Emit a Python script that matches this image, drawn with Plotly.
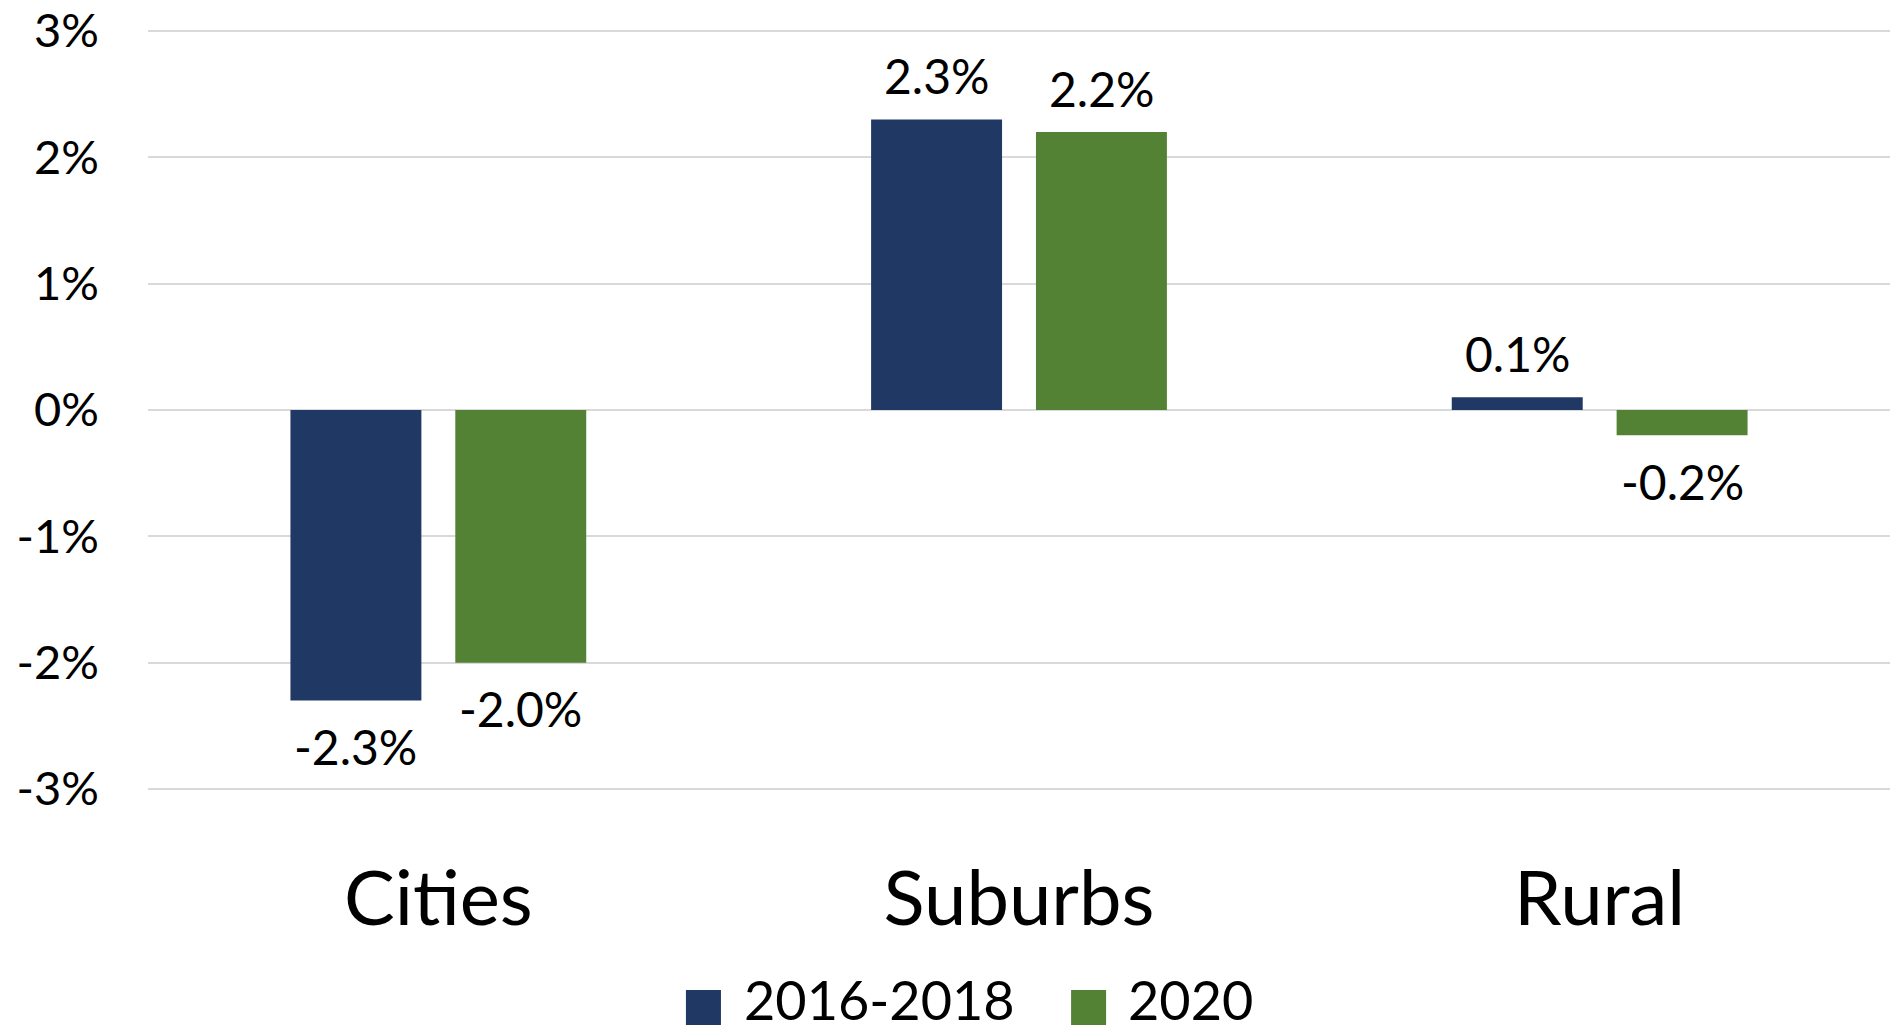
import plotly.graph_objects as go

categories = ["Cities", "Suburbs", "Rural"]
series_names = ["2016-2018", "2020"]
values_2016_2018 = [-2.3, 2.3, 0.1]
values_2020 = [-2.0, 2.2, -0.2]
y_tickvals = [-3, -2, -1, 0, 1, 2, 3]
y_ticktext = ["-3%", "-2%", "-1%", "0%", "1%", "2%", "3%"]

colors = ["#203864", "#548235"]
FONT = "Lato"
bar_width = 0.2255
offsets = [-0.2547, 0.0292]

fig = go.Figure()
annotations = []
for name, vals, col, off in zip(series_names, [values_2016_2018, values_2020], colors, offsets):
    fig.add_trace(go.Bar(
        x=categories, y=vals, name=name,
        marker=dict(color=col, line=dict(width=0)),
        width=bar_width, offset=off, showlegend=False,
    ))
    for i, v in enumerate(vals):
        annotations.append(dict(
            x=i + off + bar_width / 2, y=v, xref="x", yref="y",
            text=f"{v:.1f}%", showarrow=False,
            yanchor="middle", yshift=44 if v >= 0 else -46,
            font=dict(family=FONT, size=48, color="black"),
        ))

# custom legend (large square swatches like the original)
legend_sq_x = [(0.3088, 0.3289), (0.5299, 0.5500)]
legend_txt_x = [0.3410, 0.5614]
shapes = []
for name, col, (x0, x1), tx in zip(series_names, colors, legend_sq_x, legend_txt_x):
    shapes.append(dict(type="rect", xref="paper", yref="paper",
                       x0=x0, x1=x1, y0=-0.3092, y1=-0.2632,
                       fillcolor=col, line=dict(width=0)))
    annotations.append(dict(x=tx, y=-0.2763, xref="paper", yref="paper",
                            xanchor="left", yanchor="middle", text=name,
                            showarrow=False,
                            font=dict(family=FONT, size=54, color="black")))

fig.update_layout(
    width=1890, height=1033,
    margin=dict(l=148, r=0, t=30, b=243, autoexpand=False),
    paper_bgcolor="white", plot_bgcolor="white",
    barmode="overlay",
    font=dict(family=FONT, color="black"),
    annotations=annotations,
    shapes=shapes,
    showlegend=False,
    xaxis=dict(
        type="category", range=[-0.5, 2.5],
        showgrid=False, showline=False, zeroline=False, ticks="",
        tickfont=dict(family=FONT, size=76, color="black"),
        ticklabelstandoff=58, automargin=False,
    ),
    yaxis=dict(
        range=[-3.008, 3.008], tickvals=y_tickvals, ticktext=y_ticktext,
        showgrid=True, gridcolor="#D9D9D9", gridwidth=1.5,
        zeroline=True, zerolinecolor="#D9D9D9", zerolinewidth=1.5,
        showline=False, ticks="",
        tickfont=dict(family=FONT, size=47, color="black"),
        ticklabelstandoff=48, automargin=False,
    ),
)

fig.write_html("out.html",
               config={"displayModeBar": False},
               post_script="document.body.style.margin='0';document.body.style.overflow='hidden';")
